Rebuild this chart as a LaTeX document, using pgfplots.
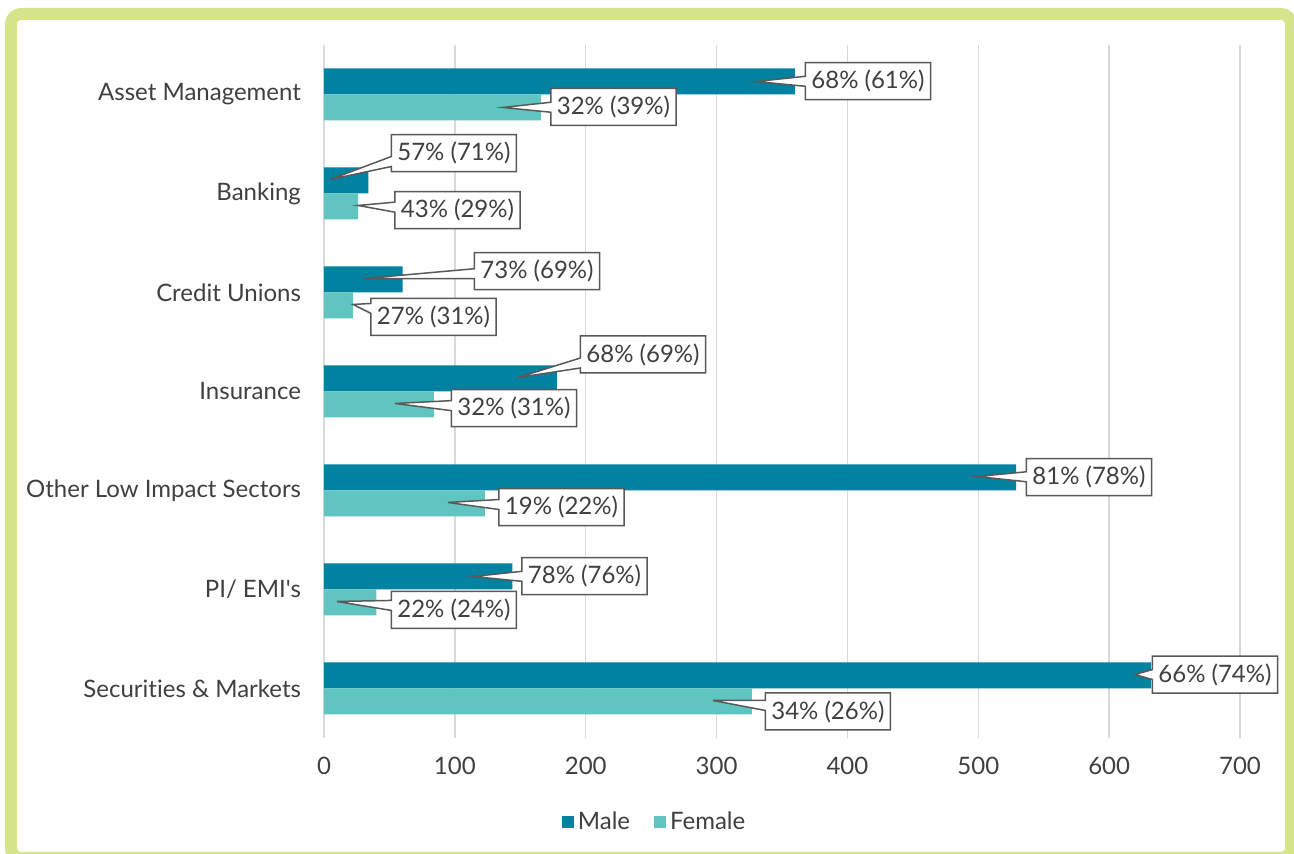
\documentclass[border=0pt]{standalone}
\usepackage{pgfplots}
\pgfplotsset{compat=1.18}
\usetikzlibrary{shapes.callouts}
\usepackage{fontspec}
\setmainfont{Lato}[Ligatures={TeXOff,CommonOff}]
\definecolor{MaleC}{RGB}{0,130,160}
\definecolor{FemaleC}{RGB}{96,197,193}
\definecolor{FrameC}{RGB}{214,228,139}
\definecolor{GridC}{RGB}{217,217,217}
\definecolor{TextC}{RGB}{64,64,64}
\definecolor{BoxC}{RGB}{89,89,89}

\tikzset{lab/.style={rectangle callout, draw=BoxC, fill=white, line width=0.75pt,
  text=TextC, font=\fontsize{12}{14}\selectfont, inner xsep=3pt,
  minimum height=18.5pt, callout pointer width=5pt}}

\begin{document}
\begin{tikzpicture}
% frame, in pixel units of the reference
\begin{scope}[shift={(-162pt,369pt)},x=0.5pt,y=-0.5pt]
  \useasboundingbox (0,0) rectangle (1294,854);
  \fill[white] (0,0) rectangle (1294,854);
  \draw[FrameC, line width=6pt, rounded corners=5pt] (11,14) rectangle (1291,858);
\end{scope}
\begin{axis}[
  scale only axis, width=458pt, height=346.5pt,
  xbar, bar width=13pt,
  xmin=0, xmax=700, ymin=-0.5, ymax=6.5,
  xtick={0,100,...,700}, ytick={0,...,6},
  yticklabels={Securities \& Markets, PI/ EMI's, Other Low Impact Sectors, Insurance, Credit Unions, Banking, Asset Management},
  axis line style={draw=none}, major tick length=0pt,
  xmajorgrids, grid style={GridC, line width=0.75pt},
  tick label style={text=TextC},
  xticklabel style={font=\fontsize{12}{14}\selectfont, yshift=-6pt},
  yticklabel style={font=\fontsize{12}{14}\selectfont, xshift=-8pt},
  /pgf/number format/assume math mode=true,
  clip=false,
  legend style={at={(0.362,-0.121)}, anchor=center, draw=none, legend columns=2,
    font=\fontsize{12}{14}\selectfont, text=TextC,
    /tikz/every even column/.append style={column sep=10pt}},
  legend image code/.code={\fill[#1] (0pt,-3pt) rectangle (6pt,3pt);},
]
\addplot[fill=MaleC, draw=none, bar shift=6.5pt] coordinates {
  (360,6) (34,5) (60,4) (178,3) (529,2) (144,1) (632,0)
};
\addlegendentry{Male}
\addplot[fill=FemaleC, draw=none, bar shift=-6.5pt] coordinates {
  (166,6) (26,5) (22,4) (84,3) (123,2) (40,1) (327,0)
};
\addlegendentry{Female}

\node[lab, callout absolute pointer={(axis cs:330.1,6.131)}] at (axis cs:415.7,6.136) {68\% (61\%)};
\node[lab, callout absolute pointer={(axis cs:136.8,5.869)}] at (axis cs:221.2,5.874) {32\% (39\%)};
\node[lab, callout absolute pointer={(axis cs:4.6,5.141)}] at (axis cs:99.3,5.409) {57\% (71\%)};
\node[lab, callout absolute pointer={(axis cs:26.0,4.879)}] at (axis cs:102.0,4.833) {43\% (29\%)};
\node[lab, callout absolute pointer={(axis cs:30.6,4.141)}] at (axis cs:162.8,4.217) {73\% (69\%)};
\node[lab, callout absolute pointer={(axis cs:22.2,3.879)}] at (axis cs:83.7,3.753) {27\% (31\%)};
\node[lab, callout absolute pointer={(axis cs:148.2,3.141)}] at (axis cs:243.8,3.374) {68\% (69\%)};
\node[lab, callout absolute pointer={(axis cs:54.3,2.879)}] at (axis cs:145.2,2.833) {32\% (31\%)};
\node[lab, callout absolute pointer={(axis cs:499.0,2.141)}] at (axis cs:584.6,2.136) {81\% (78\%)};
\node[lab, callout absolute pointer={(axis cs:94.8,1.879)}] at (axis cs:181.5,1.833) {19\% (22\%)};
\node[lab, callout absolute pointer={(axis cs:113.9,1.131)}] at (axis cs:199.1,1.136) {78\% (76\%)};
\node[lab, callout absolute pointer={(axis cs:9.9,0.879)}] at (axis cs:99.3,0.793) {22\% (24\%)};
\node[lab, callout absolute pointer={(axis cs:619.7,0.141)}] at (axis cs:680.9,0.141) {66\% (74\%)};
\node[lab, callout absolute pointer={(axis cs:297.3,-0.121)}] at (axis cs:385.1,-0.232) {34\% (26\%)};
\end{axis}
\end{tikzpicture}
\end{document}
